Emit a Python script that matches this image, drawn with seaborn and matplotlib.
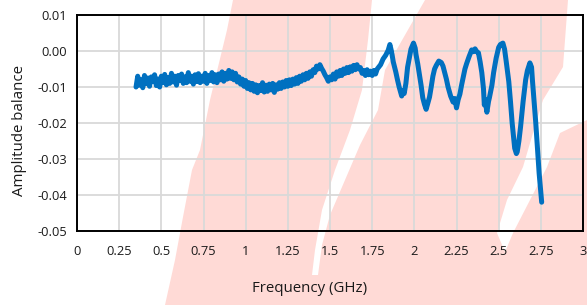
import matplotlib
matplotlib.use("Agg")
import matplotlib.pyplot as plt
import numpy as np
import pandas as pd
import seaborn as sns
from matplotlib.patches import Polygon

# ---------------- data ----------------
freq = [0.35, 0.36, 0.37, 0.38, 0.39, 0.40, 0.41, 0.42, 0.43, 0.44,
        0.45, 0.46, 0.47, 0.48, 0.49, 0.50, 0.51, 0.52, 0.53, 0.54,
        0.55, 0.56, 0.57, 0.58, 0.59, 0.60, 0.61, 0.62, 0.63, 0.64,
        0.65, 0.66, 0.67, 0.68, 0.69, 0.70, 0.71, 0.72, 0.73, 0.74,
        0.75, 0.76, 0.77, 0.78, 0.79, 0.80, 0.81, 0.82, 0.83, 0.84,
        0.85, 0.86, 0.87, 0.88, 0.89, 0.90, 0.91, 0.92, 0.93, 0.94,
        0.95, 0.96, 0.97, 0.98, 0.99, 1.00, 1.01, 1.02, 1.03, 1.04,
        1.05, 1.06, 1.07, 1.08, 1.09, 1.10, 1.11, 1.12, 1.13, 1.14,
        1.15, 1.16, 1.17, 1.18, 1.19, 1.20, 1.21, 1.22, 1.23, 1.24,
        1.25, 1.26, 1.27, 1.28, 1.29, 1.30, 1.31, 1.32, 1.33, 1.34,
        1.35, 1.36, 1.37, 1.38, 1.39, 1.40, 1.41, 1.42, 1.43, 1.44,
        1.45, 1.46, 1.47, 1.48, 1.49, 1.50, 1.51, 1.52, 1.53, 1.54,
        1.55, 1.56, 1.57, 1.58, 1.59, 1.60, 1.61, 1.62, 1.63, 1.64,
        1.65, 1.66, 1.67, 1.68, 1.69, 1.70, 1.71, 1.72, 1.73, 1.74,
        1.75, 1.76, 1.77, 1.78,
        1.80, 1.815, 1.83, 1.845, 1.855, 1.865, 1.875, 1.89, 1.90, 1.91,
        1.925, 1.935, 1.94, 1.95, 1.96, 1.98, 1.995, 2.005, 2.01, 2.02,
        2.03, 2.04, 2.05, 2.06, 2.07, 2.08, 2.09, 2.10, 2.11, 2.12,
        2.13, 2.145, 2.16, 2.17, 2.18, 2.19, 2.20, 2.215, 2.23, 2.24,
        2.25, 2.26, 2.27, 2.28, 2.29, 2.30, 2.31, 2.325, 2.34, 2.35,
        2.36, 2.37, 2.38, 2.39, 2.40, 2.41, 2.415, 2.42, 2.43, 2.44,
        2.445, 2.46, 2.47, 2.485, 2.50, 2.51, 2.525, 2.535, 2.545, 2.56,
        2.57, 2.58, 2.595, 2.605, 2.61, 2.62, 2.63, 2.645, 2.66, 2.67,
        2.685, 2.695, 2.70, 2.71, 2.72, 2.73, 2.74, 2.755]

balance = [-0.0100, -0.0070, -0.0095, -0.0080, -0.0102, -0.0068, -0.0090, -0.0075, -0.0098, -0.0072,
           -0.0085, -0.0066, -0.0096, -0.0078, -0.0100, -0.0070, -0.0088, -0.0065, -0.0094, -0.0074,
           -0.0090, -0.0062, -0.0086, -0.0070, -0.0095, -0.0068, -0.0082, -0.0064, -0.0090, -0.0072,
           -0.0088, -0.0060, -0.0084, -0.0070, -0.0092, -0.0066, -0.0085, -0.0063, -0.0088, -0.0070,
           -0.0084, -0.0062, -0.0090, -0.0068, -0.0082, -0.0060, -0.0086, -0.0066, -0.0088, -0.0064,
           -0.0080, -0.0058, -0.0084, -0.0062, -0.0078, -0.0054, -0.0076, -0.0058, -0.0080, -0.0062,
           -0.0086, -0.0072, -0.0092, -0.0078, -0.0098, -0.0082, -0.0104, -0.0088, -0.0108, -0.0090,
           -0.0112, -0.0094, -0.0116, -0.0096, -0.0110, -0.0088, -0.0114, -0.0095, -0.0112, -0.0092,
           -0.0108, -0.0090, -0.0115, -0.0094, -0.0106, -0.0088, -0.0104, -0.0086, -0.0100, -0.0082,
           -0.0098, -0.0080, -0.0096, -0.0078, -0.0092, -0.0074, -0.0090, -0.0070, -0.0084, -0.0066,
           -0.0080, -0.0062, -0.0076, -0.0058, -0.0070, -0.0052, -0.0060, -0.0042, -0.0050, -0.0038,
           -0.0048, -0.0056, -0.0066, -0.0074, -0.0084, -0.0072, -0.0080, -0.0064, -0.0078, -0.0058,
           -0.0070, -0.0054, -0.0068, -0.0050, -0.0062, -0.0046, -0.0060, -0.0044, -0.0056, -0.0040,
           -0.0052, -0.0038, -0.0050, -0.0046, -0.0062, -0.0054, -0.0068, -0.0052, -0.0066, -0.0056,
           -0.0068, -0.0054, -0.0064, -0.0050,
           -0.0038, -0.0022, -0.0012, 0.0002, 0.0018, -0.0002, -0.0030, -0.0058, -0.0080, -0.0100,
           -0.0125, -0.0110, -0.0118, -0.0090, -0.0045, 0.0005, 0.0022, 0.0008, -0.0010, -0.0035,
           -0.0065, -0.0095, -0.0130, -0.0148, -0.0162, -0.0145, -0.0128, -0.0100, -0.0070, -0.0050,
           -0.0040, -0.0028, -0.0032, -0.0042, -0.0060, -0.0078, -0.0100, -0.0125, -0.0142, -0.0132,
           -0.0158, -0.0135, -0.0120, -0.0095, -0.0072, -0.0050, -0.0035, -0.0015, 0.0003, -0.0002,
           0.0006, -0.0002, -0.0005, -0.0030, -0.0060, -0.0105, -0.0150, -0.0135, -0.0170, -0.0140,
           -0.0130, -0.0095, -0.0060, -0.0020, 0.0010, 0.0018, 0.0022, 0.0005, -0.0030, -0.0085,
           -0.0140, -0.0200, -0.0270, -0.0285, -0.0280, -0.0250, -0.0210, -0.0140, -0.0080, -0.0055,
           -0.0033, -0.0045, -0.0080, -0.0140, -0.0200, -0.0270, -0.0340, -0.0420]

x_ticks = [0, 0.25, 0.5, 0.75, 1, 1.25, 1.5, 1.75, 2, 2.25, 2.5, 2.75, 3]
x_tick_labels = ["0", "0.25", "0.5", "0.75", "1", "1.25", "1.5", "1.75",
                 "2", "2.25", "2.5", "2.75", "3"]
y_ticks = [-0.05, -0.04, -0.03, -0.02, -0.01, 0.00, 0.01]
y_tick_labels = ["-0.05", "-0.04", "-0.03", "-0.02", "-0.01", "0.00", "0.01"]

# ---------------- style ----------------
sns.set_theme(style="white")
plt.rcParams["font.family"] = ["Open Sans", "DejaVu Sans"]

W, H = 587, 305
fig = plt.figure(figsize=(W / 100, H / 100), dpi=100)
fig.patch.set_facecolor("white")

ax = fig.add_axes([77 / W, 1 - 231 / H, 506 / W, 216 / H])
ax.set_facecolor("none")


def to_fig(pts):
    return [(x / W, 1 - y / H) for x, y in pts]


pink = "#FFDAD6"
pink_region = [(233, 0), (587, 0), (587, 305), (165, 305), (175, 260), (183, 217),
               (192, 170), (200, 150), (210, 100), (227, 30)]
white_mid = [(372, 0), (425, 0), (405, 35), (385, 70), (378, 110), (360, 145),
             (345, 180), (330, 215), (322, 245), (318, 275), (312, 275), (315, 250),
             (322, 210), (335, 170), (350, 130), (362, 90), (368, 40)]
white_right = [(568, 0), (587, 0), (587, 120), (560, 133), (547, 167), (530, 200),
               (513, 233), (505, 252), (497, 233), (507, 200), (523, 167), (533, 133),
               (543, 100), (563, 67)]

fig.patches.append(Polygon(to_fig(pink_region), closed=True, transform=fig.transFigure,
                           facecolor=pink, edgecolor="none", zorder=-3))
for poly in (white_mid, white_right):
    fig.patches.append(Polygon(to_fig(poly), closed=True, transform=fig.transFigure,
                               facecolor="white", edgecolor="none", zorder=-2))

df = pd.DataFrame({"Frequency": freq, "Balance": balance})
sns.lineplot(data=df, x="Frequency", y="Balance", ax=ax, color="#0070C0",
             linewidth=3.6, sort=False, zorder=3)

ax.set_xlim(0, 3)
ax.set_ylim(-0.05, 0.01)
ax.set_xticks(x_ticks)
ax.set_xticklabels(x_tick_labels)
ax.set_yticks(y_ticks)
ax.set_yticklabels(y_tick_labels)

ax.grid(True, color="#D9D9D9", linewidth=1.3)
ax.set_axisbelow(True)
for s in ax.spines.values():
    s.set_visible(True)
    s.set_color("black")
    s.set_linewidth(1.4)

ax.tick_params(axis="x", length=0, pad=10, labelsize=9.3, labelcolor="#1a1a1a")
ax.tick_params(axis="y", length=0, pad=7, labelsize=9.3, labelcolor="#1a1a1a")

ax.set_xlabel("Frequency (GHz)", fontsize=10.8, color="#1a1a1a")
ax.set_ylabel("Amplitude balance", fontsize=10.8, color="#1a1a1a")
ax.xaxis.set_label_coords((310 - 77) / 506, (231 - 281) / 216)
ax.yaxis.set_label_coords((27 - 77) / 506, (231 - 131) / 216)

fig.savefig("out.png", dpi=100, facecolor="white")
